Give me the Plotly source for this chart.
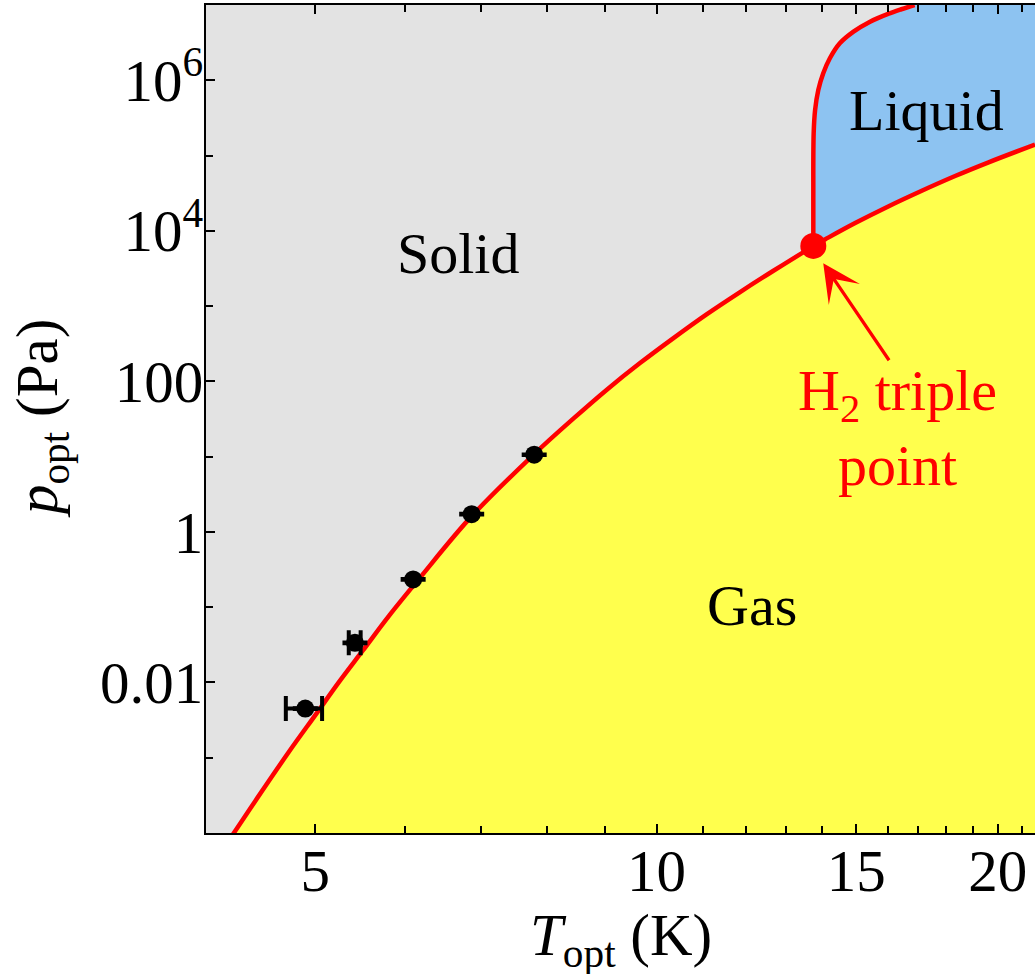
import numpy as np
import plotly.graph_objects as go

# ---- data ----
# sublimation curve (solid / gas), K and Pa
T_sub = [4.21, 4.43, 4.74, 5.01, 5.25, 5.51, 5.81, 6.18, 6.87, 7.81, 8.45, 9.04,
         9.67, 10.35, 11.07, 11.85, 12.68, 13.48, 13.75]
p_sub = [8.6e-5, 2.71e-4, 1.20e-3, 3.83e-3, 1.025e-2, 2.68e-2, 7.72e-2, 0.243, 1.62,
         11.0, 32.2, 77.6, 175.0, 376.0, 777.0, 1537.0, 2950.0, 5210.0, 6300.0]
# vaporization curve (liquid / gas)
T_vap = [13.75, 14.09, 14.97, 16.01, 17.14, 18.34, 19.63, 21.57]
p_vap = [6300.0, 7735.0, 1.269e4, 2.11e4, 3.41e4, 5.35e4, 8.135e4, 1.40e5]
# melting curve (solid / liquid)
T_melt = [13.75, 13.75, 13.76, 13.80, 13.89, 14.03, 14.22, 14.51, 14.92, 15.43,
          16.00, 16.44, 16.89]
p_melt = [6300.0, 2.57e4, 1.98e5, 4.03e5, 7.43e5, 1.24e6, 1.96e6, 3.10e6, 4.43e6,
          6.01e6, 7.60e6, 8.78e6, 1.00e7]
# triple point
T_triple = 13.75
p_triple = 6300.0
# measured points with temperature uncertainties
T_meas = [4.90, 5.42, 6.10, 6.87, 7.80]
p_meas = [4.5e-3, 3.36e-2, 0.234, 1.72, 10.6]
T_err_plus = [0.17, 0.063]
T_err_minus = [0.19, 0.068]

# tick labels
x_major = [5, 10, 15, 20]
x_major_text = ["5", "10", "15", "20"]
x_minor = [6, 7, 8, 9, 11, 12, 13, 14, 16, 17, 18, 19, 21]
y_major = [1e-2, 1, 1e2, 1e4, 1e6]
y_major_text = ["0.01", "1", "100", "10<sup>4</sup>", "10<sup>6</sup>"]
y_minor = [1e-3, 1e-1, 1e1, 1e3, 1e5]

# ---- styling ----
GRAY = "#E3E3E3"
YELLOW = "#FFFF4D"
BLUE = "#8DC3F1"
RED = "#FF0000"
FONT = "Liberation Serif"

xr = [np.log10(4.005), np.log10(21.57)]
yr = [-4.0, 7.0]
far_x_lo = 10 ** (xr[0] - 0.3)
far_x_hi = 10 ** (xr[1] + 0.3)
far_y_lo = 10 ** (yr[0] - 2)
far_y_hi = 10 ** (yr[1] + 2)

fig = go.Figure()

# liquid region: everything right of the melting curve (gas painted over it later)
fig.add_trace(go.Scatter(x=[T_triple, far_x_hi, far_x_hi], y=[far_y_lo, far_y_lo, far_y_hi],
                         mode="lines", line=dict(width=0), hoverinfo="skip", showlegend=False))
fig.add_trace(go.Scatter(x=T_melt, y=p_melt, mode="lines",
                         line=dict(width=0, shape="spline"), fill="tonexty", fillcolor=BLUE,
                         hoverinfo="skip", showlegend=False))
# gas region: below sublimation + vaporization curves
fig.add_trace(go.Scatter(x=[far_x_lo, far_x_hi], y=[far_y_lo, far_y_lo],
                         mode="lines", line=dict(width=0), hoverinfo="skip", showlegend=False))
fig.add_trace(go.Scatter(x=T_sub + T_vap[1:], y=p_sub + p_vap[1:], mode="lines",
                         line=dict(width=0, shape="spline"), fill="tonexty", fillcolor=YELLOW,
                         hoverinfo="skip", showlegend=False))

# phase boundaries
for xs, ys in [(T_sub, p_sub), (T_vap, p_vap), (T_melt, p_melt)]:
    fig.add_trace(go.Scatter(x=xs, y=ys, mode="lines",
                             line=dict(color=RED, width=4.5, shape="spline"),
                             hoverinfo="skip", showlegend=False))

# measured points
fig.add_trace(go.Scatter(
    x=T_meas[:2], y=p_meas[:2], mode="markers",
    marker=dict(color="black", size=18),
    error_x=dict(type="data", symmetric=False, array=T_err_plus, arrayminus=T_err_minus,
                 color="black", thickness=4, width=12.5),
    error_y=dict(type="percent", value=1, color="black", thickness=4, width=12.5),
    showlegend=False))
fig.add_trace(go.Scatter(
    x=T_meas[2:], y=p_meas[2:], mode="markers",
    marker=dict(color="black", size=18),
    error_y=dict(type="percent", value=1, color="black", thickness=4, width=12.5),
    showlegend=False))

# triple point
fig.add_trace(go.Scatter(x=[T_triple], y=[p_triple], mode="markers",
                         marker=dict(color=RED, size=26), showlegend=False))

lab_font = dict(family=FONT, size=58, color="black")
fig.add_annotation(x=np.log10(6.69), y=np.log10(5070), text="Solid", showarrow=False,
                   font=lab_font, xanchor="center", yanchor="middle")
fig.add_annotation(x=np.log10(12.15), y=np.log10(0.1065), text="Gas", showarrow=False,
                   font=lab_font, xanchor="center", yanchor="middle")
fig.add_annotation(x=np.log10(17.3), y=np.log10(3.91e5), text="Liquid", showarrow=False,
                   font=lab_font, xanchor="center", yanchor="middle")
fig.add_annotation(x=np.log10(16.30), y=np.log10(23.9), text="H<sub>2</sub> triple<br>point",
                   showarrow=False, font=dict(family=FONT, size=58, color=RED),
                   xanchor="center", yanchor="middle", align="center")
fig.add_annotation(x=np.log10(14.03), y=np.log10(3700), ax=np.log10(16.07), ay=np.log10(182),
                   axref="x", ayref="y", text="", showarrow=True, arrowhead=3,
                   arrowsize=1.9, arrowwidth=3.3, arrowcolor=RED, standoff=0)

tick_font = dict(family=FONT, size=59, color="black")
# axis titles
fig.add_annotation(xref="paper", yref="paper", x=0.5, y=-0.1278,
                   text="<i>T</i><sub>opt</sub> (K)", showarrow=False, font=tick_font,
                   xanchor="center", yanchor="middle")
fig.add_annotation(xref="paper", yref="paper", x=-0.199, y=0.5, textangle=-90,
                   text="<i>p</i><sub>opt</sub> (Pa)", showarrow=False, font=tick_font,
                   xanchor="center", yanchor="middle")

fig.update_layout(
    width=1035, height=974,
    margin=dict(l=206, r=0, t=5, b=141, autoexpand=False),
    paper_bgcolor="white", plot_bgcolor=GRAY,
    font=dict(family=FONT, color="black"),
    xaxis=dict(type="log", range=xr, showgrid=False, zeroline=False, automargin=False,
               showline=True, linecolor="black", linewidth=2, mirror="ticks",
               ticks="inside", ticklen=9, tickwidth=2, tickcolor="black",
               tickmode="array", tickvals=x_major, ticktext=x_major_text,
               tickfont=tick_font, ticklabelstandoff=-15,
               minor=dict(tickmode="array", tickvals=x_minor, ticks="inside",
                          ticklen=7, tickwidth=2, tickcolor="black", showgrid=False)),
    yaxis=dict(type="log", range=yr, showgrid=False, zeroline=False, automargin=False,
               showline=True, linecolor="black", linewidth=2, mirror=False,
               ticks="inside", ticklen=9, tickwidth=2, tickcolor="black",
               tickmode="array", tickvals=y_major, ticktext=y_major_text,
               tickfont=tick_font, ticklabelstandoff=-11,
               minor=dict(tickmode="array", tickvals=y_minor, ticks="inside",
                          ticklen=7, tickwidth=2, tickcolor="black", showgrid=False)),
)

fig.write_html("out.html", config={"displayModeBar": False},
               post_script="document.body.style.margin='0px';document.body.style.overflow='hidden';")
